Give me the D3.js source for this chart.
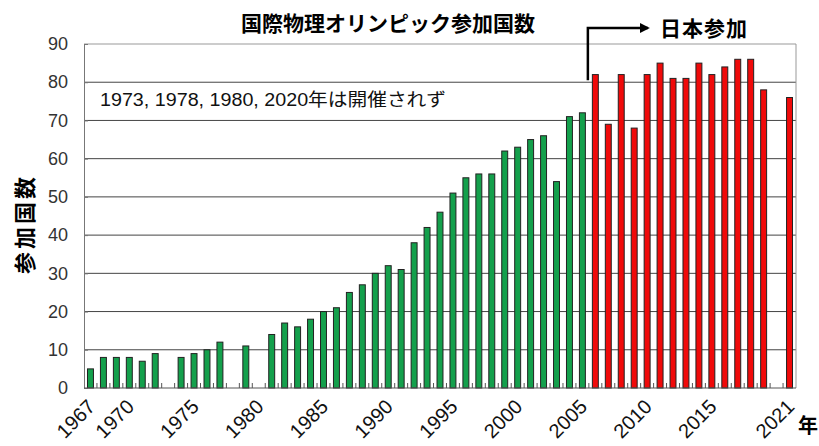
<!DOCTYPE html>
<html>
<head>
<meta charset="utf-8">
<script src="https://cdn.jsdelivr.net/npm/d3@7"></script>
<style>
  body { margin: 0; background: #fff; }
  svg { display: block; }
</style>
</head>
<body>
<div id="chart"></div>
<script>
// 国際物理オリンピック 参加国数 (null = 開催されず)
const years = d3.range(1967, 2022);
const counts = [
  5, 8, 8, 8, 7, 9, null, 8, 9, 10,        // 1967-1976
  12, null, 11, null, 14, 17, 16, 18, 20, 21, // 1977-1986
  25, 27, 30, 32, 31, 38, 42, 46, 51, 55,   // 1987-1996
  56, 56, 62, 63, 65, 66, 54, 71, 72, 82,   // 1997-2006
  69, 82, 68, 82, 85, 81, 81, 85, 82, 84,   // 2007-2016
  86, 86, 78, null, 76                      // 2017-2021
];
const labelYears = [1967, 1970, 1975, 1980, 1985, 1990, 1995, 2000, 2005, 2010, 2015, 2021];
const yTicks = d3.range(0, 91, 10);
const japanFrom = 2006;

const width = 819;
const height = 446;
const margin = { top: 44, right: 23, bottom: 58, left: 84 };

const data = years.map((y, i) => ({ year: y, value: counts[i] }));

const svg = d3.select("#chart")
  .append("svg")
  .attr("width", width)
  .attr("height", height);

const xScale = d3.scaleBand()
  .domain(years)
  .range([margin.left, width - margin.right]);

const yScale = d3.scaleLinear()
  .domain([0, 90])
  .range([height - margin.bottom, margin.top]);

const numFont = "'Liberation Sans', Arial, sans-serif";
const jpFont = "'Noto Sans CJK JP', sans-serif";

// gridlines
svg.append("g")
  .selectAll("line")
  .data(yTicks.filter(d => d > 0))
  .join("line")
  .attr("x1", margin.left)
  .attr("x2", width - margin.right)
  .attr("y1", d => yScale(d))
  .attr("y2", d => yScale(d))
  .attr("stroke", d => d === 90 ? "#999" : "#444")
  .attr("stroke-width", 1);

// right border
svg.append("line")
  .attr("x1", width - margin.right)
  .attr("x2", width - margin.right)
  .attr("y1", yScale(90))
  .attr("y2", yScale(0))
  .attr("stroke", "#999");

// bars
const barW = xScale.bandwidth() * 0.46;
svg.append("g")
  .selectAll("rect")
  .data(data.filter(d => d.value !== null))
  .join("rect")
  .attr("x", d => xScale(d.year) + (xScale.bandwidth() - barW) / 2)
  .attr("y", d => yScale(d.value))
  .attr("width", barW)
  .attr("height", d => yScale(0) - yScale(d.value))
  .attr("fill", d => d.year >= japanFrom ? "#f00a0a" : "#14a04c")
  .attr("stroke", "#222")
  .attr("stroke-width", 1);

// y axis
const yAxis = d3.axisLeft(yScale).tickValues(yTicks).tickSize(-4).tickPadding(16);
const gy = svg.append("g")
  .attr("transform", `translate(${margin.left},0)`)
  .call(yAxis);
gy.select(".domain").attr("stroke", "#777");
gy.selectAll(".tick line").attr("stroke", "#777");
gy.selectAll("text")
  .attr("font-family", numFont)
  .attr("font-size", 18)
  .attr("fill", "#333");

// x axis (baseline with inside ticks at category boundaries)
svg.append("line")
  .attr("x1", margin.left)
  .attr("x2", width - margin.right)
  .attr("y1", yScale(0))
  .attr("y2", yScale(0))
  .attr("stroke", "#555");

svg.append("g")
  .selectAll("line")
  .data(years.slice(1))
  .join("line")
  .attr("x1", d => xScale(d))
  .attr("x2", d => xScale(d))
  .attr("y1", yScale(0))
  .attr("y2", yScale(0) - 5)
  .attr("stroke", "#555");

svg.append("g")
  .selectAll("text")
  .data(labelYears)
  .join("text")
  .attr("transform", d => `translate(${xScale(d) + xScale.bandwidth() / 2 + 6},${yScale(0) + 20}) rotate(-45)`)
  .attr("text-anchor", "end")
  .attr("font-family", numFont)
  .attr("font-size", 20)
  .attr("fill", "#111")
  .text(d => d);

// 年
svg.append("text")
  .attr("x", 808)
  .attr("y", 433)
  .attr("text-anchor", "middle")
  .attr("font-family", jpFont)
  .attr("font-weight", "bold")
  .attr("font-size", 20)
  .text("年");

// title
svg.append("text")
  .attr("x", 388)
  .attr("y", 31)
  .attr("text-anchor", "middle")
  .attr("font-family", jpFont)
  .attr("font-weight", "bold")
  .attr("font-size", 21)
  .text("国際物理オリンピック参加国数");

// y label
svg.append("text")
  .attr("transform", `translate(33,${(margin.top + height - margin.bottom) / 2 + 8}) rotate(-90)`)
  .attr("text-anchor", "middle")
  .attr("font-family", jpFont)
  .attr("font-weight", "bold")
  .attr("font-size", 22)
  .attr("letter-spacing", 3)
  .text("参加国数");

// note
svg.append("text")
  .attr("x", 100)
  .attr("y", 106)
  .attr("font-family", numFont + ", 'Noto Sans CJK JP'")
  .attr("font-size", 18)
  .attr("textLength", 346)
  .attr("lengthAdjust", "spacingAndGlyphs")
  .attr("fill", "#111")
  .text("1973, 1978, 1980, 2020年は開催されず");

// 日本参加 arrow
const ax = xScale(japanFrom) - 1;
const ay = 28;
svg.append("defs").append("marker")
  .attr("id", "arrow")
  .attr("viewBox", "0 0 10 10")
  .attr("refX", 8)
  .attr("refY", 5)
  .attr("markerWidth", 4)
  .attr("markerHeight", 4)
  .attr("orient", "auto")
  .append("path")
  .attr("d", "M0,0 L10,5 L0,10 Z")
  .attr("fill", "#000");

svg.append("path")
  .attr("d", `M${ax},${yScale(80.5)} L${ax},${ay} L${ax + 60},${ay}`)
  .attr("fill", "none")
  .attr("stroke", "#000")
  .attr("stroke-width", 2.5)
  .attr("marker-end", "url(#arrow)");

svg.append("text")
  .attr("x", 660)
  .attr("y", 36)
  .attr("font-family", jpFont)
  .attr("font-weight", "bold")
  .attr("font-size", 21)
  .attr("letter-spacing", 1)
  .text("日本参加");
</script>
</body>
</html>
